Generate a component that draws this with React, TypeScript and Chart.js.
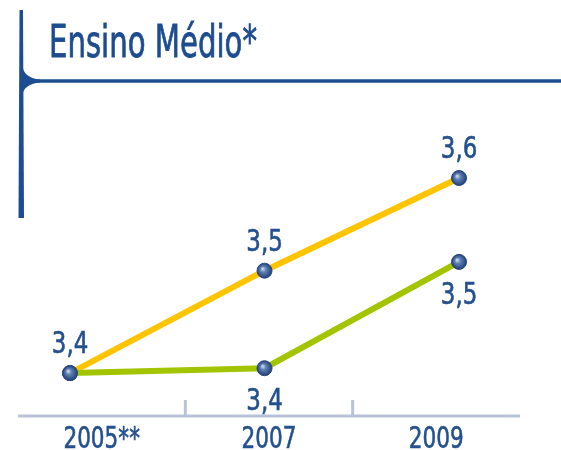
import React, { useEffect, useRef } from "react";
import { Chart, registerables } from "chart.js";

Chart.register(...registerables);

const title = "Ensino Médio*";
const categories = ["2005**", "2007", "2009"];
const years = [2005, 2007, 2009];
const seriesYellow = [3.4, 3.505, 3.6];
const seriesGreen = [3.4, 3.405, 3.514];
const labelsYellow = ["3,4", "3,5", "3,6"];
const labelsGreen = ["", "3,4", "3,5"];

const FONT = '"DejaVu Sans Condensed", "DejaVu Sans", sans-serif';
const BLUE = "#1d4d90";
const TEXT = "#24508f";

function squeezedText(ctx: any, text: string, x: number, y: number, size: number, sx: number, align: string, stroke: number) {
  ctx.save();
  ctx.font = `${size}px ${FONT}`;
  ctx.textAlign = align;
  ctx.textBaseline = "alphabetic";
  ctx.translate(x, y);
  ctx.scale(sx, 1);
  ctx.fillText(text, 0, 0);
  if (stroke > 0) {
    ctx.strokeStyle = ctx.fillStyle;
    ctx.lineWidth = stroke;
    ctx.strokeText(text, 0, 0);
  }
  ctx.restore();
}

const decorPlugin = {
  id: "decor",
  beforeDraw(chart: any) {
    const ctx = chart.ctx;
    ctx.save();
    ctx.strokeStyle = BLUE;
    ctx.fillStyle = BLUE;
    ctx.beginPath();
    ctx.moveTo(19.5, 10);
    ctx.lineTo(23, 10);
    ctx.lineTo(24, 218);
    ctx.lineTo(18.5, 218);
    ctx.closePath();
    ctx.fill();
    ctx.lineWidth = 3.5;
    ctx.beginPath();
    ctx.moveTo(21, 81);
    ctx.lineTo(561, 81);
    ctx.stroke();
    ctx.beginPath();
    ctx.moveTo(22, 64);
    ctx.quadraticCurveTo(23, 78, 40, 79.5);
    ctx.lineTo(40, 82.5);
    ctx.quadraticCurveTo(23, 84, 22, 97);
    ctx.closePath();
    ctx.fill();
    ctx.font = `45px ${FONT}`;
    const w = ctx.measureText(title).width;
    ctx.fillStyle = BLUE;
    squeezedText(ctx, title, 49, 57, 45, 208 / w, "left", 0.8);

    const ca = chart.chartArea;
    const xs = chart.scales.x;
    ctx.strokeStyle = "#b8c2d9";
    ctx.lineWidth = 3;
    ctx.beginPath();
    ctx.moveTo(ca.left, ca.bottom);
    ctx.lineTo(ca.right, ca.bottom);
    ctx.stroke();
    for (let i = 0; i < categories.length - 1; i++) {
      const bx = (xs.getPixelForValue(i) + xs.getPixelForValue(i + 1)) / 2;
      ctx.beginPath();
      ctx.moveTo(bx, ca.bottom);
      ctx.lineTo(bx, ca.bottom - 16);
      ctx.stroke();
    }
    ctx.fillStyle = TEXT;
    categories.forEach((c, i) => {
      squeezedText(ctx, c, xs.getPixelForValue(i), ca.bottom + 32, 30, 0.8, "center", 0.6);
    });
    ctx.restore();
  },
  afterDatasetsDraw(chart: any) {
    const ctx = chart.ctx;
    ctx.save();
    ctx.fillStyle = TEXT;
    const sets = [
      { labels: labelsYellow, dy: -20 },
      { labels: labelsGreen, dy: 42 },
    ];
    sets.forEach((s, di) => {
      const meta = chart.getDatasetMeta(di);
      meta.data.forEach((pt: any, i: number) => {
        const t = s.labels[i];
        if (!t) return;
        squeezedText(ctx, t, pt.x, pt.y + s.dy, 30, 0.85, "center", 0.6);
      });
    });
    ctx.restore();
  },
};

function pointFill(ctx: any) {
  const chart = ctx.chart;
  const raw = ctx.raw;
  const xs = chart.scales && chart.scales.x2;
  const ys = chart.scales && chart.scales.y;
  if (!raw || !xs || !ys) return "#4d6fa0";
  const px = xs.getPixelForValue(raw.x);
  const py = ys.getPixelForValue(raw.y);
  if (!isFinite(px) || !isFinite(py)) return "#4d6fa0";
  const g = chart.ctx.createRadialGradient(px - 2, py - 2, 0.5, px, py, 7.5);
  g.addColorStop(0, "#c9d6ea");
  g.addColorStop(0.35, "#5f80b4");
  g.addColorStop(1, "#1f3f78");
  return g;
}

export default function App() {
  const ref = useRef<HTMLCanvasElement>(null);
  useEffect(() => {
    if (!ref.current) return;
    const chart = new Chart(ref.current, {
      type: "line",
      data: {
        labels: categories,
        datasets: [
          {
            data: years.map((x, i) => ({ x, y: seriesYellow[i] })),
            xAxisID: "x2",
            borderColor: "#ffc400",
            borderWidth: 6,
            pointRadius: 7.5,
            pointBackgroundColor: pointFill,
            pointBorderColor: "#27477c",
            pointBorderWidth: 1,
            tension: 0,
            order: 2,
          },
          {
            data: years.map((x, i) => ({ x, y: seriesGreen[i] })),
            xAxisID: "x2",
            borderColor: "#a3c400",
            borderWidth: 6,
            pointRadius: 7.5,
            pointBackgroundColor: pointFill,
            pointBorderColor: "#27477c",
            pointBorderWidth: 1,
            tension: 0,
            order: 1,
          },
        ],
      },
      options: {
        responsive: false,
        animation: false,
        layout: { padding: { left: 18, right: 41, top: 100, bottom: 34 } },
        plugins: { legend: { display: false }, tooltip: { enabled: false }, title: { display: false } },
        scales: {
          x: { type: "category", display: false, offset: true },
          x2: { type: "linear", display: false, min: 2004.465, max: 2009.627 },
          y: { type: "linear", display: false, min: 3.356, max: 3.68 },
        },
      },
      plugins: [decorPlugin],
    });
    return () => chart.destroy();
  }, []);
  return (
    <div style={{ position: "fixed", left: 0, top: 0, width: 561, height: 450, background: "#fff" }}>
      <canvas ref={ref} width={561} height={450} style={{ display: "block" }} />
    </div>
  );
}
